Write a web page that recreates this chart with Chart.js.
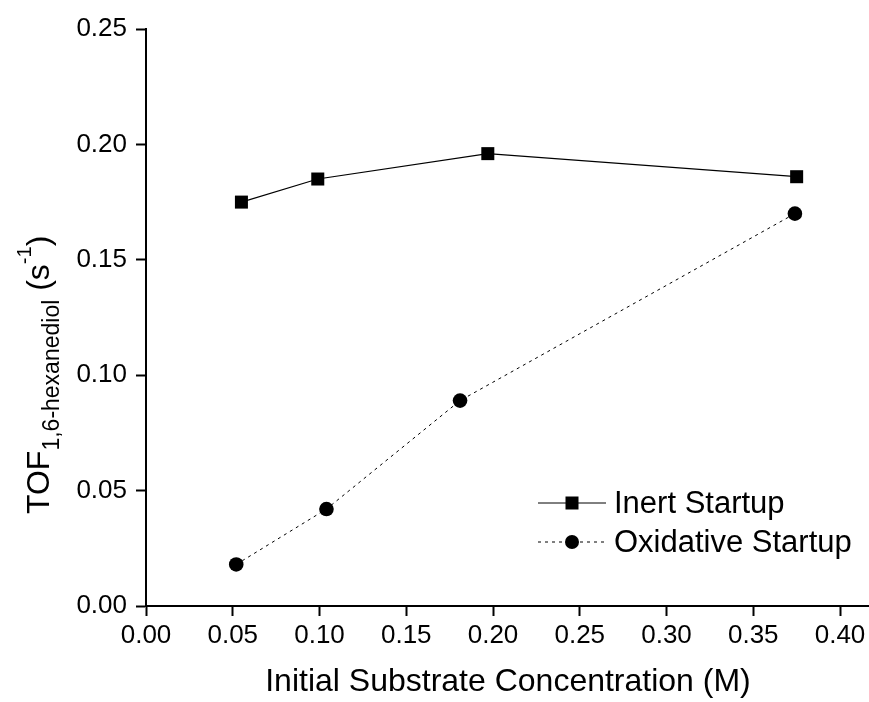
<!DOCTYPE html>
<html>
<head>
<meta charset="utf-8">
<script src="https://cdn.jsdelivr.net/npm/chart.js@4.4.0/dist/chart.umd.min.js"></script>
<style>
  html, body { margin: 0; padding: 0; background: #fff; }
  #wrap { width: 869px; height: 702px; }
</style>
</head>
<body>
<div id="wrap"><canvas id="tofChart" width="869" height="702"></canvas></div>
<script>
// Data
const inertX = [0.055, 0.099, 0.197, 0.375];
const inertY = [0.175, 0.185, 0.196, 0.186];
const oxidX = [0.052, 0.104, 0.181, 0.374];
const oxidY = [0.018, 0.042, 0.089, 0.170];
const seriesNames = ["Inert Startup", "Oxidative Startup"];

// Tick labels
const xTickValues = [0.00, 0.05, 0.10, 0.15, 0.20, 0.25, 0.30, 0.35, 0.40];
const yTickValues = [0.00, 0.05, 0.10, 0.15, 0.20, 0.25];

const FONT = "'Liberation Sans', Arial, sans-serif";

function toPoints(xs, ys) {
  return xs.map((x, i) => ({ x: x, y: ys[i] }));
}

// axis titles and legend drawn by hand (subscripts / line samples)
const extras = {
  id: 'extras',
  afterDraw(chart) {
    const ctx = chart.ctx;
    ctx.save();
    ctx.fillStyle = '#000';
    ctx.strokeStyle = '#000';

    // x title
    ctx.font = '32px ' + FONT;
    ctx.textAlign = 'center';
    ctx.textBaseline = 'alphabetic';
    ctx.fillText('Initial Substrate Concentration (M)', 508, 691);

    // y title: TOF_{1,6-hexanediol} (s^{-1})
    const parts = [
      { t: 'TOF', size: 32, dy: 0 },
      { t: '1,6-hexanediol', size: 23, dy: 10 },
      { t: ' (s', size: 32, dy: 0 },
      { t: '-1', size: 20, dy: -18 },
      { t: ')', size: 32, dy: 0 }
    ];
    ctx.translate(49, 514);
    ctx.rotate(-Math.PI / 2);
    ctx.textAlign = 'left';
    let cx = 0;
    parts.forEach(p => {
      ctx.font = p.size + 'px ' + FONT;
      ctx.fillText(p.t, cx, p.dy);
      cx += ctx.measureText(p.t).width;
    });
    ctx.setTransform(1, 0, 0, 1, 0, 0);

    // legend
    const rows = [
      { y: 503, dash: [], style: 'rect' },
      { y: 542, dash: [3, 4], style: 'circle' }
    ];
    rows.forEach((r, i) => {
      ctx.lineWidth = 1;
      ctx.setLineDash(r.dash);
      ctx.beginPath();
      ctx.moveTo(538, r.y);
      ctx.lineTo(606, r.y);
      ctx.stroke();
      ctx.setLineDash([]);
      ctx.beginPath();
      if (r.style === 'rect') {
        ctx.rect(572 - 6.5, r.y - 6.5, 13, 13);
      } else {
        ctx.arc(572, r.y, 7, 0, Math.PI * 2);
      }
      ctx.fill();
      ctx.font = '31px ' + FONT;
      ctx.textAlign = 'left';
      ctx.textBaseline = 'middle';
      ctx.fillText(seriesNames[i], 614, r.y + 1);
    });
    ctx.restore();
  }
};

const config = {
  type: 'scatter',
  data: {
    datasets: [{
      label: seriesNames[0],
      data: toPoints(inertX, inertY),
      showLine: true,
      borderColor: '#000',
      backgroundColor: '#000',
      borderWidth: 1.2,
      pointStyle: 'rect',
      pointRadius: 9.2,
      pointBorderWidth: 0
    }, {
      label: seriesNames[1],
      data: toPoints(oxidX, oxidY),
      showLine: true,
      borderColor: '#000',
      backgroundColor: '#000',
      borderWidth: 1,
      borderDash: [3, 4],
      pointStyle: 'circle',
      pointRadius: 7.3,
      pointBorderWidth: 0
    }]
  },
  options: {
    responsive: false,
    animation: false,
    layout: { autoPadding: false, padding: { top: 29, right: 0, left: 0, bottom: 0 } },
    plugins: {
      legend: { display: false },
      tooltip: { enabled: false }
    },
    scales: {
      x: {
        type: 'linear',
        min: 0,
        max: 0.4167,
        afterFit(scale) {
          scale.height = 96;
          scale.paddingLeft = 0;
          scale.paddingRight = 0;
        },
        afterBuildTicks(scale) { scale.ticks = xTickValues.map(v => ({ value: v })); },
        grid: { drawOnChartArea: false, drawTicks: true, tickLength: 10, tickWidth: 2, tickColor: '#000' },
        border: { display: true, color: '#000', width: 2 },
        ticks: {
          color: '#000',
          font: { family: FONT, size: 26 },
          padding: 4,
          maxRotation: 0,
          autoSkip: false,
          callback: v => Number(v).toFixed(2)
        }
      },
      y: {
        min: 0,
        max: 0.25,
        afterFit(scale) {
          scale.width = 146;
          scale.paddingTop = 0;
          scale.paddingBottom = 0;
        },
        afterBuildTicks(scale) { scale.ticks = yTickValues.map(v => ({ value: v })); },
        grid: { drawOnChartArea: false, drawTicks: true, tickLength: 10, tickWidth: 2, tickColor: '#000' },
        border: { display: true, color: '#000', width: 2 },
        ticks: {
          color: '#000',
          font: { family: FONT, size: 26 },
          padding: 9,
          callback: v => Number(v).toFixed(2)
        }
      }
    }
  },
  plugins: [extras]
};

window.addEventListener('DOMContentLoaded', () => {
  const tofChart = new Chart(document.getElementById('tofChart'), config);
});
</script>
</body>
</html>
